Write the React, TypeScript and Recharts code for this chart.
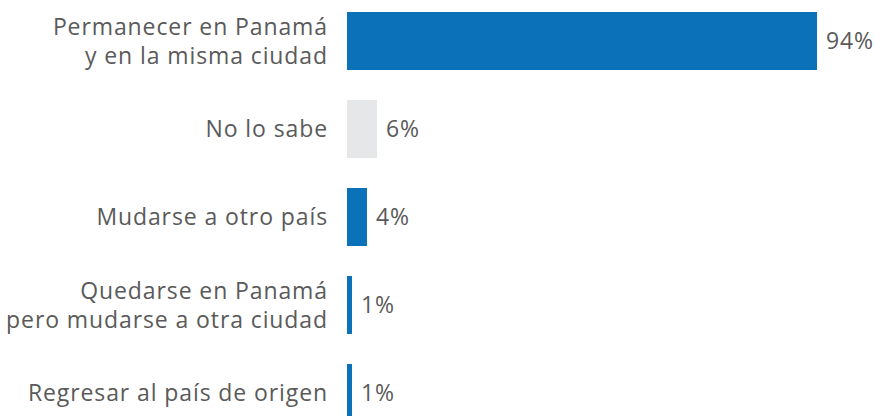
import React from "react";
import { BarChart, Bar, XAxis, YAxis, Cell, LabelList } from "recharts";

const categories = [
  "Permanecer en Panamá\ny en la misma ciudad",
  "No lo sabe",
  "Mudarse a otro país",
  "Quedarse en Panamá\npero mudarse a otra ciudad",
  "Regresar al país de origen",
];
const values = [94, 6, 4, 1, 1];
const colors = ["#0b72b9", "#e6e7e8", "#0b72b9", "#0b72b9", "#0b72b9"];

const data = categories.map((name, i) => ({ name, value: values[i] }));

const TEXT = "#5a5a5a";
const FONT = "'Open Sans', sans-serif";

const CategoryTick = (props: any) => {
  const { x, y, payload } = props;
  const lines: string[] = String(payload.value).split("\n");
  const lh = 29;
  const start = -((lines.length - 1) * lh) / 2;
  return (
    <text
      x={x}
      y={y}
      textAnchor="end"
      fill={TEXT}
      fontSize={23}
      fontFamily={FONT}
      letterSpacing={0.9}
    >
      {lines.map((l, i) => (
        <tspan key={i} x={x} dy={i === 0 ? start + 8 : lh}>
          {l}
        </tspan>
      ))}
    </text>
  );
};

export default function App() {
  return (
    <div
      style={{
        position: "absolute",
        left: 0,
        top: 0,
        width: 875,
        height: 416,
        overflow: "hidden",
        background: "#fff",
      }}
    >
      <div style={{ position: "absolute", top: -3, left: 0 }}>
        <BarChart
          width={875}
          height={440}
          data={data}
          layout="vertical"
          margin={{ top: 0, right: 58, bottom: 0, left: 0 }}
          barCategoryGap={15}
        >
          <XAxis type="number" domain={[0, 94]} hide />
          <YAxis
            type="category"
            dataKey="name"
            width={347}
            axisLine={false}
            tickLine={false}
            tickSize={0}
            tickMargin={19}
            tick={<CategoryTick />}
            interval={0}
          />
          <Bar dataKey="value" barSize={58} isAnimationActive={false}>
            {data.map((d, i) => (
              <Cell key={d.name} fill={colors[i]} />
            ))}
            <LabelList
              dataKey="value"
              position="right"
              offset={9}
              formatter={(v: any) => `${v}%`}
              fill={TEXT}
              fontSize={23}
              fontFamily={FONT}
              letterSpacing={0.9}
            />
          </Bar>
        </BarChart>
      </div>
    </div>
  );
}
